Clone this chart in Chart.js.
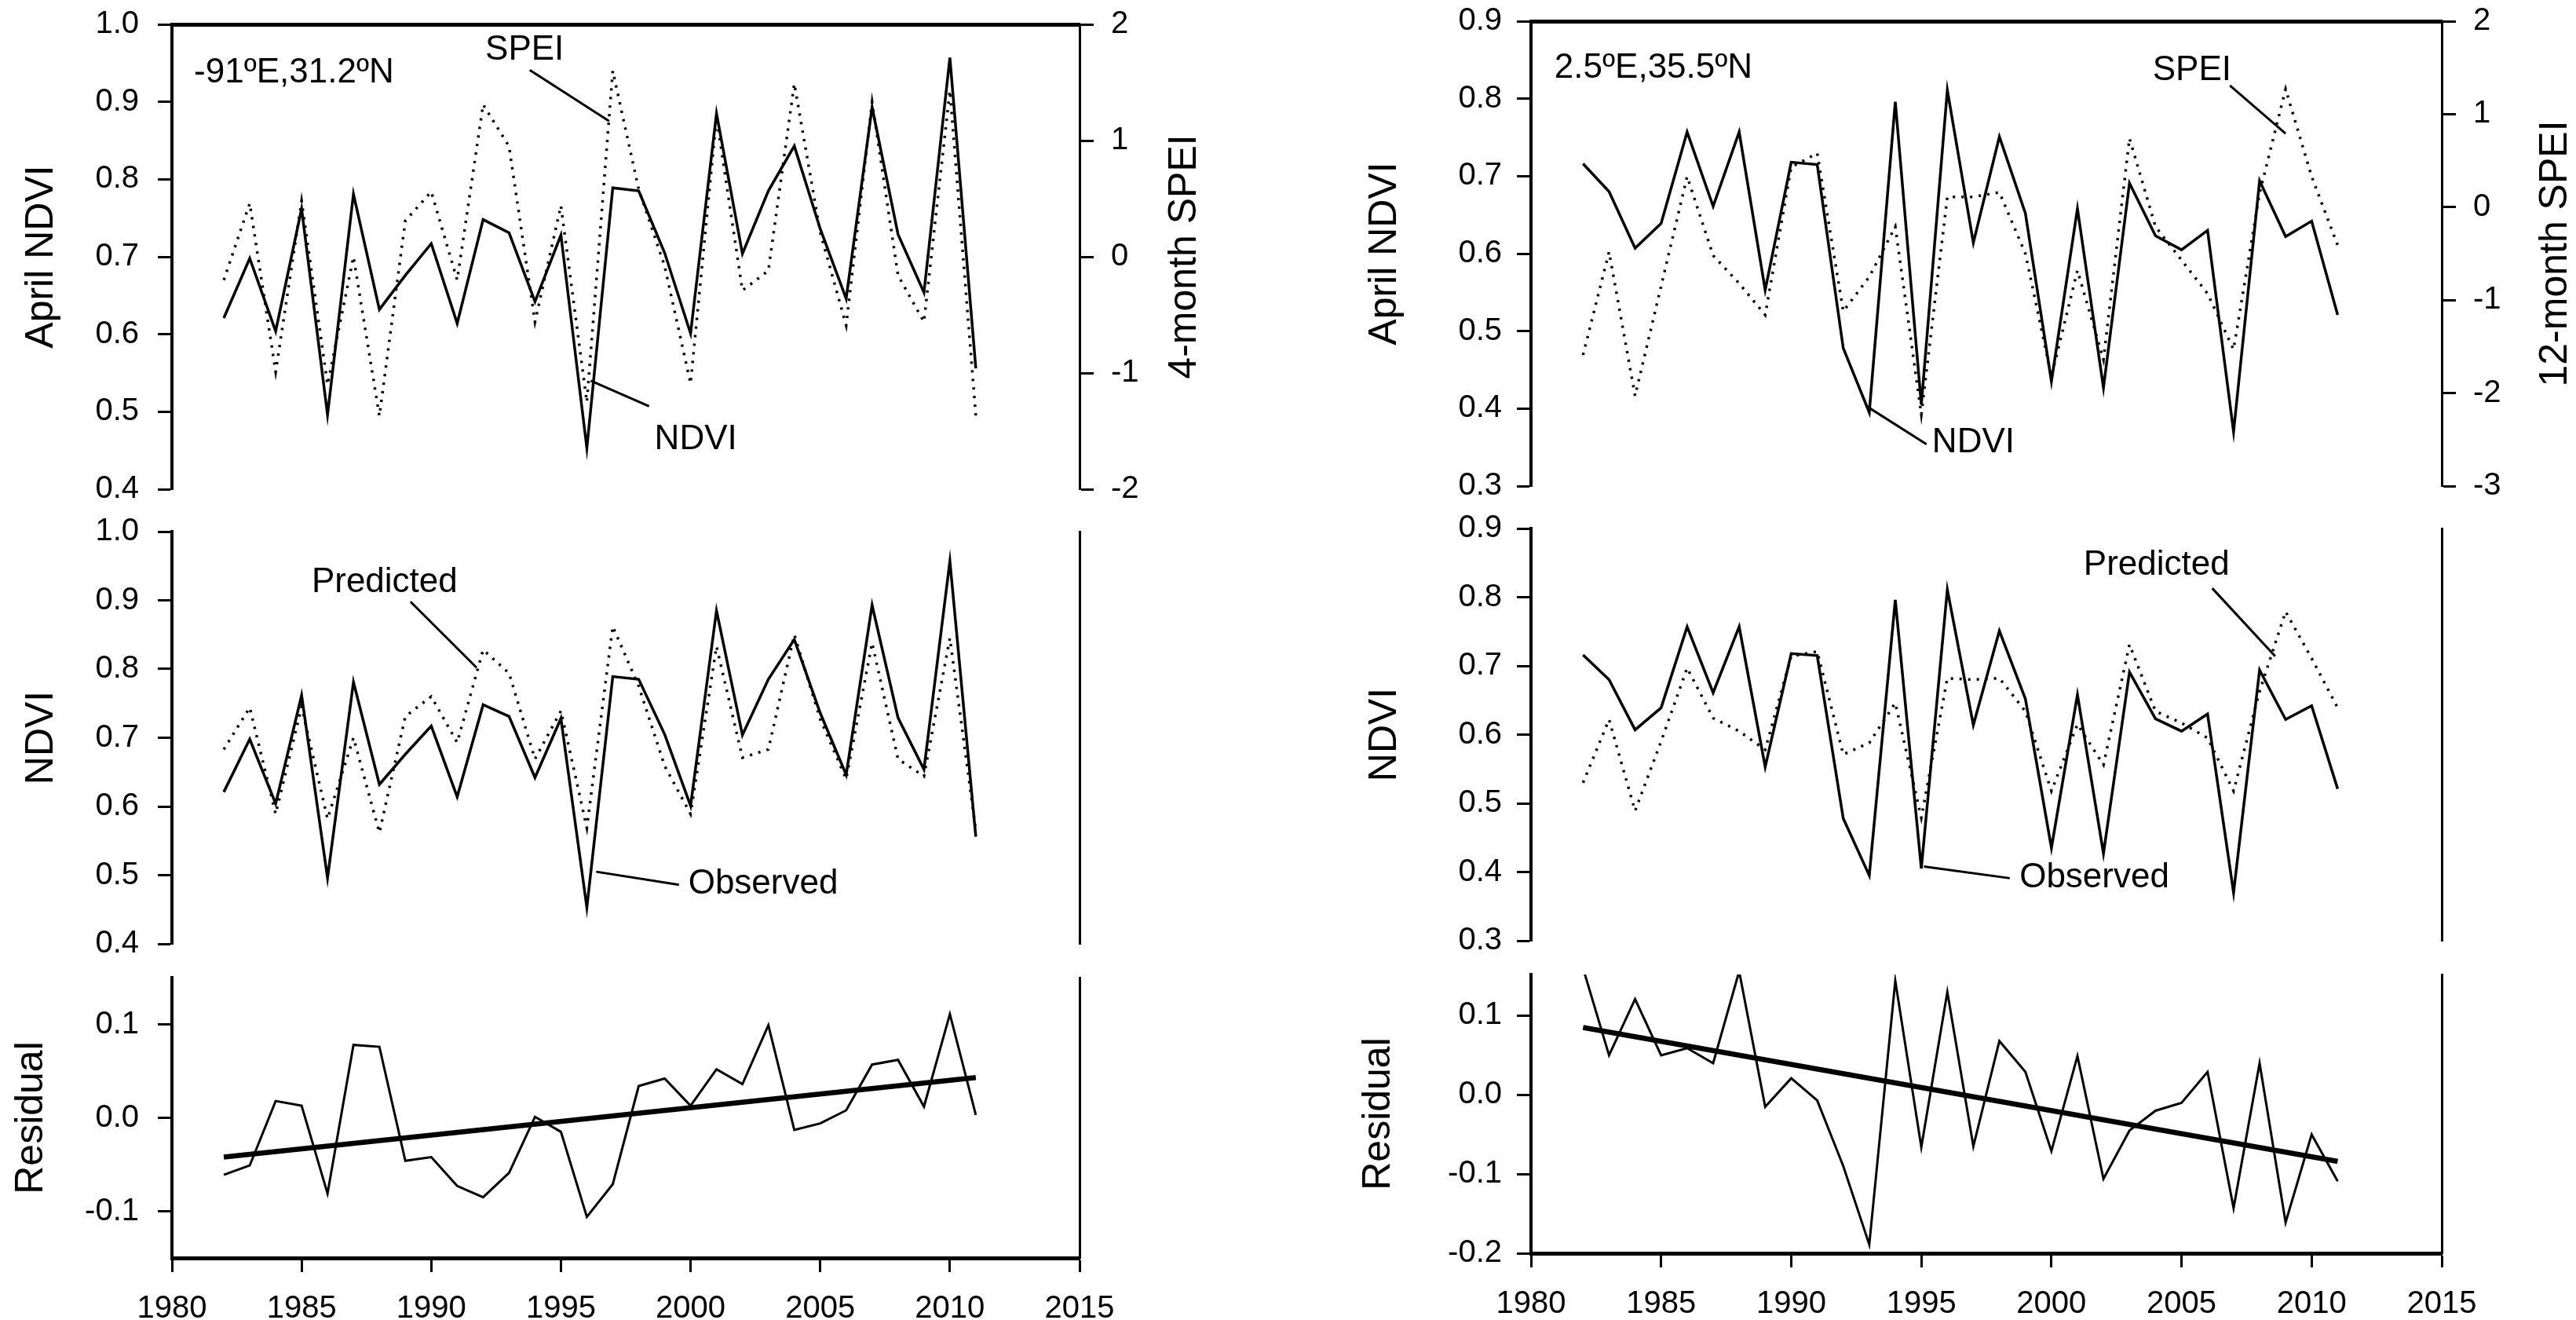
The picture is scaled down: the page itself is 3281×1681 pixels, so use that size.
<!DOCTYPE html>
<html>
<head>
<meta charset="utf-8">
<script src="https://cdn.jsdelivr.net/npm/chart.js@4.4.1/dist/chart.umd.min.js"></script>
<style>
body { margin: 0; background: #fff; }
#wrap { position: relative; width: 3281px; height: 1681px; overflow: hidden; background: #fff; }
canvas { position: absolute; }
</style>
</head>
<body>
<div id="wrap">
  <canvas id="c1"></canvas><canvas id="c2"></canvas><canvas id="c3"></canvas>
  <canvas id="c4"></canvas><canvas id="c5"></canvas><canvas id="c6"></canvas>
</div>
<script>
// years of the series
const years = [1982,1983,1984,1985,1986,1987,1988,1989,1990,1991,1992,1993,1994,1995,1996,
               1997,1998,1999,2000,2001,2002,2003,2004,2005,2006,2007,2008,2009,2010,2011];
const trendYears = [1982, 2011];

// site A: -91E, 31.2N
const ndviA = [0.621,0.698,0.604,0.762,0.496,0.781,0.632,0.676,0.717,0.614,0.748,0.731,0.642,0.728,0.453,
               0.789,0.785,0.705,0.601,0.885,0.704,0.785,0.843,0.736,0.646,0.893,0.729,0.654,0.957,0.556];
const speiA = [-0.2,0.46,-0.99,0.48,-1.1,0.0,-1.37,0.31,0.56,-0.2,1.31,0.95,-0.56,0.44,-1.25,
               1.6,0.58,-0.08,-1.09,1.2,-0.29,-0.12,1.49,0.21,-0.59,1.33,-0.16,-0.56,1.43,-1.37];
const predA = [0.683,0.744,0.589,0.745,0.582,0.70,0.562,0.731,0.76,0.693,0.828,0.794,0.669,0.739,0.569,
               0.862,0.775,0.659,0.589,0.833,0.671,0.683,0.85,0.727,0.64,0.838,0.669,0.644,0.845,0.565];
const residA = [-0.061,-0.051,0.018,0.013,-0.081,0.078,0.076,-0.046,-0.042,-0.073,-0.085,-0.059,0.001,-0.015,-0.106,
                -0.071,0.034,0.042,0.013,0.052,0.036,0.099,-0.013,-0.006,0.008,0.057,0.062,0.012,0.111,0.003];
const trendA = [-0.042, 0.043];

// site B: 2.5E, 35.5N
const ndviB = [0.716,0.680,0.607,0.639,0.757,0.661,0.757,0.553,0.718,0.715,0.478,0.395,0.796,0.405,0.811,
               0.614,0.751,0.652,0.435,0.658,0.427,0.691,0.623,0.605,0.630,0.370,0.694,0.622,0.642,0.521];
const speiB = [-1.59,-0.48,-2.03,-0.85,0.33,-0.52,-0.82,-1.16,0.43,0.58,-1.12,-0.75,-0.21,-2.23,0.11,
               0.11,0.16,-0.5,-1.82,-0.68,-1.64,0.74,-0.21,-0.57,-0.93,-1.53,0.15,1.27,0.33,-0.41];
const predB = [0.530,0.622,0.489,0.59,0.697,0.624,0.605,0.578,0.714,0.721,0.571,0.588,0.646,0.479,0.682,
               0.680,0.682,0.634,0.518,0.615,0.556,0.731,0.634,0.617,0.595,0.518,0.663,0.779,0.711,0.639];
const residB = [0.16,0.050,0.121,0.050,0.059,0.040,0.156,-0.015,0.021,-0.007,-0.09,-0.189,0.144,-0.066,0.130,
                -0.065,0.068,0.029,-0.071,0.049,-0.106,-0.045,-0.020,-0.010,0.029,-0.143,0.040,-0.161,-0.050,-0.109];
const trendB = [0.085, -0.084];

// tick labels
const xTicks = [1980,1985,1990,1995,2000,2005,2010,2015];
const ndviTicksA = [0.4,0.5,0.6,0.7,0.8,0.9,1.0];
const ndviTicksB = [0.3,0.4,0.5,0.6,0.7,0.8,0.9];
const speiTicksA = [-2,-1,0,1,2];
const speiTicksB = [-3,-2,-1,0,1,2];
const residTicksA = [-0.1,0.0,0.1];
const residTicksB = [-0.2,-0.1,0.0,0.1];

const FONT = '"Liberation Sans", Arial, sans-serif';
Chart.defaults.font.family = FONT;
Chart.defaults.color = '#000';

// labels, leader lines and right axis titles, placed in data units
const notes = {
  c1: { texts: [{text:'-91ºE,31.2ºN', x:1980.85, y:0.937, align:'left'},
                {text:'SPEI', x:1993.6, y:0.967}, {text:'NDVI', x:2000.2, y:0.464}],
        leaders: [[1993.8,0.941,1996.86,0.875],[1996.15,0.54,1998.4,0.507]],
        rightTitle: {text:'4-month SPEI', dx:134} },
  c2: { texts: [{text:'Predicted', x:1988.2, y:0.926}, {text:'Observed', x:2002.8, y:0.487}],
        leaders: [[1989.2,0.898,1991.75,0.802],[1996.36,0.505,1999.55,0.486]] },
  c4: { texts: [{text:'2.5ºE,35.5ºN', x:1980.9, y:0.839, align:'left'},
                {text:'SPEI', x:2005.4, y:0.836}, {text:'NDVI', x:1997.0, y:0.356}],
        leaders: [[2006.86,0.817,2009.0,0.755],[1992.9,0.403,1995.2,0.354]],
        rightTitle: {text:'12-month SPEI', dx:145} },
  c5: { texts: [{text:'Predicted', x:2004.04, y:0.847}, {text:'Observed', x:2001.65, y:0.392}],
        leaders: [[2006.18,0.813,2008.6,0.714],[1995.1,0.408,1998.4,0.391]] }
};

Chart.register({
  id: 'notes',
  afterDraw(chart) {
    const o = notes[chart.canvas.id];
    if (!o) return;
    const ctx = chart.ctx, sx = chart.scales.x, sy = chart.scales.y;
    ctx.save();
    ctx.fillStyle = '#000';
    ctx.strokeStyle = '#000';
    ctx.font = '44px ' + FONT;
    ctx.textBaseline = 'middle';
    o.texts.forEach(t => {
      ctx.textAlign = t.align || 'center';
      ctx.fillText(t.text, sx.getPixelForValue(t.x), sy.getPixelForValue(t.y));
    });
    ctx.lineWidth = 3;
    o.leaders.forEach(l => {
      ctx.beginPath();
      ctx.moveTo(sx.getPixelForValue(l[0]), sy.getPixelForValue(l[1]));
      ctx.lineTo(sx.getPixelForValue(l[2]), sy.getPixelForValue(l[3]));
      ctx.stroke();
    });
    if (o.rightTitle) {
      const a = chart.chartArea;
      ctx.translate(a.right + o.rightTitle.dx, (a.top + a.bottom) / 2);
      ctx.rotate(-Math.PI / 2);
      ctx.font = '50px ' + FONT;
      ctx.textAlign = 'center';
      ctx.fillText(o.rightTitle.text, 0, 0);
    }
    ctx.restore();
  }
});

function pts(xs, ys) { return xs.map((x, i) => ({x: x, y: ys[i]})); }

function solid(xs, ys, w) {
  return {data: pts(xs, ys), borderColor: '#000', borderWidth: w || 3.5, pointRadius: 0, tension: 0, fill: false};
}
function dotted(xs, ys, axis) {
  return {data: pts(xs, ys), borderColor: '#000', borderWidth: 3.5, borderDash: [3, 8],
          pointRadius: 0, tension: 0, fill: false, yAxisID: axis || 'y'};
}

function fixSize(w, h) {
  return s => {
    if (w != null) s.width = w;
    if (h != null) s.height = h;
    s.paddingTop = 0; s.paddingBottom = 0; s.paddingLeft = 0; s.paddingRight = 0;
  };
}

// y axis with outward tick marks
function yAxis(pos, min, max, ticks, width, fmt, pad, border, title) {
  return {
    type: 'linear', position: pos, min: min, max: max,
    afterBuildTicks: s => { s.ticks = ticks.map(v => ({value: v})); },
    afterFit: fixSize(width, null),
    grid: {display: true, drawOnChartArea: false, drawTicks: true, tickLength: 18,
           tickWidth: 3, tickColor: '#000', color: '#000'},
    border: {display: true, width: border, color: '#000'},
    ticks: {font: {size: 40}, padding: pad, color: '#000', callback: fmt},
    title: title ? {display: true, text: title.text, font: {size: 50}, color: '#000',
                    padding: {top: title.pad, bottom: 0}} : {display: false}
  };
}
// plain vertical line on the right
function rightLine(min, max, width) {
  return {type: 'linear', position: 'right', min: min, max: max, afterFit: fixSize(width, null),
          ticks: {display: false}, grid: {display: false},
          border: {display: true, width: 3, color: '#000'}};
}
function xHidden() {
  return {type: 'linear', min: 1980, max: 2015, display: false};
}
function xTopLine() {
  return {type: 'linear', position: 'top', min: 1980, max: 2015, afterFit: fixSize(null, 0),
          ticks: {display: false}, grid: {display: false},
          border: {display: true, width: 5, color: '#000'}};
}
function xBottom(height) {
  return {
    type: 'linear', position: 'bottom', min: 1980, max: 2015,
    afterBuildTicks: s => { s.ticks = xTicks.map(v => ({value: v})); },
    afterFit: fixSize(null, height),
    grid: {display: true, drawOnChartArea: false, drawTicks: true, tickLength: 18,
           tickWidth: 3, tickColor: '#000', color: '#000'},
    border: {display: true, width: 5, color: '#000'},
    ticks: {font: {size: 40}, padding: 23, color: '#000', maxRotation: 0, autoSkip: false,
            callback: v => String(v)}
  };
}

const f1 = v => v.toFixed(1);
const f0 = v => String(v);

function panel(id, box, datasets, scales) {
  const c = document.getElementById(id);
  c.width = box.w; c.height = box.h;
  c.style.left = box.x + 'px'; c.style.top = box.y + 'px';
  new Chart(c, {
    type: 'line',
    data: {datasets: datasets},
    options: {
      responsive: false, animation: false, devicePixelRatio: 1,
      layout: {padding: {top: box.pt, bottom: box.pb, left: 0, right: 0}},
      plugins: {legend: {display: false}, tooltip: {enabled: false}},
      scales: scales
    }
  });
}

// left column: plot area x 219..1375
const LA = {x: 0, w: 1620, yl: 219, yr: 245};
// right column: plot area x 1950..3110
const RA = {x: 1660, w: 1621, yl: 290, yr: 171};

// left top
panel('c1', {x: LA.x, y: 0, w: LA.w, h: 645, pt: 31, pb: 22},
  [solid(years, ndviA), dotted(years, speiA, 'y1')],
  {x: xHidden(), xt: xTopLine(),
   y: yAxis('left', 0.4, 1.0, ndviTicksA, LA.yl, f1, 24, 4, {text: 'April NDVI', pad: 23}),
   y1: yAxis('right', -2, 2, speiTicksA, LA.yr, f0, 22, 3, null)});

// left middle
panel('c2', {x: LA.x, y: 645, w: LA.w, h: 580, pt: 32, pb: 23},
  [solid(years, ndviA), dotted(years, predA)],
  {x: xHidden(),
   y: yAxis('left', 0.4, 1.0, ndviTicksA, LA.yl, f1, 24, 4, {text: 'NDVI', pad: 23}),
   y1: rightLine(0.4, 1.0, LA.yr)});

// left bottom
panel('c3', {x: LA.x, y: 1225, w: LA.w, h: 456, pt: 20, pb: 0},
  [solid(years, residA, 3), solid(trendYears, trendA, 6.5)],
  {x: xBottom(79),
   y: yAxis('left', -0.15, 0.15, residTicksA, LA.yl, f1, 24, 4, {text: 'Residual', pad: 10}),
   y1: rightLine(-0.15, 0.15, LA.yr)});

// right top
panel('c4', {x: RA.x, y: 0, w: RA.w, h: 645, pt: 27, pb: 26},
  [solid(years, ndviB), dotted(years, speiB, 'y1')],
  {x: xHidden(), xt: xTopLine(),
   y: yAxis('left', 0.3, 0.9, ndviTicksB, RA.yl, f1, 19, 4, {text: 'April NDVI', pad: 74}),
   y1: yAxis('right', -3, 2, speiTicksB, RA.yr, f0, 22, 3, null)});

// right middle
panel('c5', {x: RA.x, y: 645, w: RA.w, h: 580, pt: 28, pb: 27},
  [solid(years, ndviB), dotted(years, predB)],
  {x: xHidden(),
   y: yAxis('left', 0.3, 0.9, ndviTicksB, RA.yl, f1, 19, 4, {text: 'NDVI', pad: 74}),
   y1: rightLine(0.3, 0.9, RA.yr)});

// right bottom
panel('c6', {x: RA.x, y: 1225, w: RA.w, h: 456, pt: 16, pb: 0},
  [solid(years, residB, 3), solid(trendYears, trendB, 6.5)],
  {x: xBottom(85),
   y: yAxis('left', -0.2, 0.152, residTicksB, RA.yl, f1, 19, 4, {text: 'Residual', pad: 66}),
   y1: rightLine(-0.2, 0.152, RA.yr)});
</script>
</body>
</html>
